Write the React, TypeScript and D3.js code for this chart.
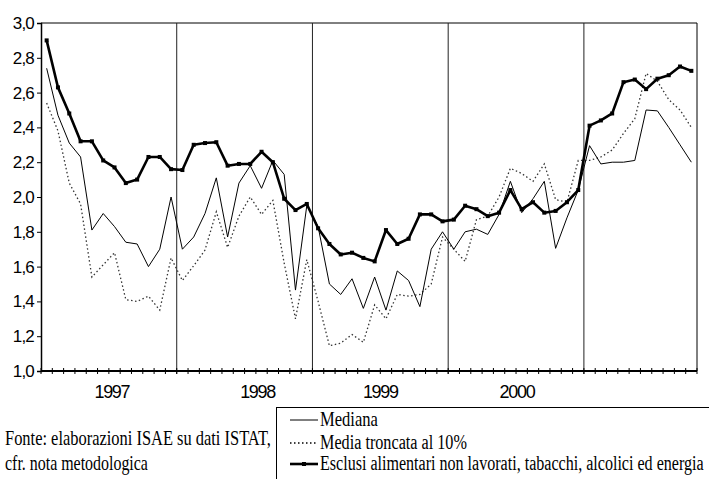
import { useEffect, useRef } from "react";
import * as d3 from "d3";

// monthly observations, Jan 1997 - Oct 2001
const mediana = [
  2.74, 2.47, 2.31, 2.23, 1.81, 1.905, 1.83, 1.74, 1.73, 1.6, 1.7, 2.0,
  1.7, 1.77, 1.905, 2.11, 1.77, 2.08, 2.18, 2.05, 2.21, 2.13, 1.465, 1.95,
  1.83, 1.5, 1.44, 1.53, 1.36, 1.54, 1.35, 1.575, 1.52, 1.37, 1.7, 1.8,
  1.7, 1.8, 1.815, 1.785, 1.9, 2.09, 1.91, 1.99, 2.09, 1.705, 1.88, 2.04,
  2.295, 2.19, 2.2, 2.2, 2.21, 2.5, 2.495, 2.4, 2.3, 2.2,
];

const mediaTroncata = [
  2.54, 2.38, 2.08, 1.96, 1.54, 1.61, 1.68, 1.41, 1.4, 1.43, 1.35, 1.65,
  1.52, 1.605, 1.695, 1.915, 1.71, 1.89, 2.0, 1.9, 1.98, 1.62, 1.3, 1.64,
  1.4, 1.145, 1.16, 1.21, 1.165, 1.38, 1.3, 1.44, 1.43, 1.44, 1.5, 1.77,
  1.7, 1.63, 1.87, 1.89, 2.0, 2.165, 2.135, 2.09, 2.19, 1.985, 1.97, 2.21,
  2.21, 2.23, 2.27, 2.365, 2.45, 2.71, 2.665, 2.56, 2.5, 2.4,
];

const esclusi = [
  2.9, 2.63, 2.48, 2.32, 2.32, 2.21, 2.17, 2.08, 2.1, 2.23, 2.23, 2.16,
  2.155, 2.3, 2.31, 2.315, 2.18, 2.19, 2.19, 2.26, 2.2, 1.99, 1.925, 1.96,
  1.82, 1.73, 1.67, 1.68, 1.65, 1.63, 1.81, 1.73, 1.76, 1.9, 1.9, 1.86,
  1.87, 1.95, 1.93, 1.89, 1.91, 2.04, 1.93, 1.97, 1.91, 1.92, 1.97, 2.04,
  2.41, 2.44, 2.48, 2.66, 2.675, 2.62, 2.68, 2.7, 2.75, 2.725,
];

const yearLabels = ["1997", "1998", "1999", "2000"];
const yTicks = [1.0, 1.2, 1.4, 1.6, 1.8, 2.0, 2.2, 2.4, 2.6, 2.8, 3.0];
const legendLabels = [
  "Mediana",
  "Media troncata al 10%",
  "Esclusi alimentari non lavorati, tabacchi, alcolici ed energia",
];
const sourceLines = ["Fonte: elaborazioni ISAE su dati ISTAT,", "cfr. nota metodologica"];

const W = 709;
const H = 479;
const PLOT = { left: 41, right: 697, top: 23, bottom: 371 };
// Excel put the year labels a little off the year centres
const YEAR_NUDGE = [3, 13, 0, 1];
const SERIF = "'Liberation Serif', 'Times New Roman', serif";
const SANS = "'Liberation Sans', Arial, sans-serif";

// condensed serif text: draw at natural size, then squeeze horizontally
function narrowText(
  parent: d3.Selection<SVGGElement, unknown, null, undefined>,
  str: string,
  x: number,
  y: number,
  width: number
) {
  const t = parent.append("text")
    .attr("font-family", SERIF)
    .attr("font-size", 20)
    .text(str);
  const natural = (t.node() as SVGTextElement).getComputedTextLength() || width;
  t.attr("transform", `translate(${x},${y}) scale(${width / natural},1)`);
}

export default function App() {
  const svgRef = useRef<SVGSVGElement>(null);

  useEffect(() => {
    if (!svgRef.current) return;
    const svg = d3.select(svgRef.current);
    svg.selectAll("*").remove();

    const n = esclusi.length;
    const x = d3.scaleLinear().domain([0, n]).range([PLOT.left, PLOT.right]);
    const y = d3.scaleLinear().domain([1, 3]).range([PLOT.bottom, PLOT.top]);
    const px = (i: number) => x(i + 0.5);

    // frame (top + right)
    svg.append("path")
      .attr("d", `M${PLOT.left},${PLOT.top}H${PLOT.right}V${PLOT.bottom}`)
      .attr("fill", "none")
      .attr("stroke", "#000")
      .attr("stroke-width", 1);

    // year dividers
    svg.append("g")
      .selectAll("line")
      .data([12, 24, 36, 48])
      .join("line")
      .attr("x1", (d) => x(d))
      .attr("x2", (d) => x(d))
      .attr("y1", PLOT.top)
      .attr("y2", PLOT.bottom + 3)
      .attr("stroke", "#222")
      .attr("stroke-width", 1);

    // y axis
    const yAxis = svg.append("g")
      .attr("transform", `translate(${PLOT.left},0)`)
      .call(d3.axisLeft(y).tickValues(yTicks).tickSize(4).tickPadding(3)
        .tickFormat((d) => d3.format(".1f")(d as number).replace(".", ",")));
    yAxis.select(".domain").attr("stroke", "#000").attr("stroke-width", 1.5);
    yAxis.selectAll("line").attr("stroke", "#000");
    yAxis.selectAll("text")
      .attr("fill", "#000")
      .attr("font-family", SANS)
      .attr("font-size", 17)
      .attr("letter-spacing", -0.8);

    // x axis with month ticks crossing the line
    const months = d3.range(n + 1);
    svg.append("g")
      .selectAll("line")
      .data(months)
      .join("line")
      .attr("x1", (d) => x(d))
      .attr("x2", (d) => x(d))
      .attr("y1", PLOT.bottom - 3)
      .attr("y2", PLOT.bottom + 3)
      .attr("stroke", "#000")
      .attr("stroke-width", 1);
    svg.append("line")
      .attr("x1", PLOT.left)
      .attr("x2", PLOT.right)
      .attr("y1", PLOT.bottom)
      .attr("y2", PLOT.bottom)
      .attr("stroke", "#000")
      .attr("stroke-width", 2);

    svg.append("g")
      .selectAll("text")
      .data(yearLabels)
      .join("text")
      .attr("x", (_, i) => x(i * 12 + 6) + YEAR_NUDGE[i])
      .attr("y", 398)
      .attr("text-anchor", "middle")
      .attr("font-family", SANS)
      .attr("font-size", 18)
      .attr("letter-spacing", -1.3)
      .text((d) => d);

    // series
    const line = d3.line<number>().x((_, i) => px(i)).y((d) => y(d));

    svg.append("path")
      .datum(mediaTroncata)
      .attr("d", line)
      .attr("fill", "none")
      .attr("stroke", "#333")
      .attr("stroke-width", 1.3)
      .attr("stroke-dasharray", "1.5,2.5");

    svg.append("path")
      .datum(mediana)
      .attr("d", line)
      .attr("fill", "none")
      .attr("stroke", "#000")
      .attr("stroke-width", 1);

    svg.append("path")
      .datum(esclusi)
      .attr("d", line)
      .attr("fill", "none")
      .attr("stroke", "#000")
      .attr("stroke-width", 2.6)
      .attr("stroke-linejoin", "round");

    svg.append("g")
      .selectAll("rect")
      .data(esclusi)
      .join("rect")
      .attr("x", (_, i) => px(i) - 2)
      .attr("y", (d) => y(d) - 2)
      .attr("width", 4)
      .attr("height", 4)
      .attr("fill", "#000");

    // source note
    const src = svg.append("g");
    const srcLen = [266, 143];
    sourceLines.forEach((s, i) => narrowText(src, s, 5, 445 + i * 25, srcLen[i]));

    // legend
    svg.append("rect")
      .attr("x", 276.5)
      .attr("y", 407.5)
      .attr("width", 460)
      .attr("height", 100)
      .attr("fill", "#fff")
      .attr("stroke", "#000")
      .attr("stroke-width", 1);

    const legY = [420, 443, 464];
    const legLen = [58, 147, 384];
    const leg = svg.append("g");
    legendLabels.forEach((label, i) => {
      const ly = legY[i];
      const sample = leg.append("line")
        .attr("x1", 290)
        .attr("x2", 318)
        .attr("y1", ly)
        .attr("y2", ly)
        .attr("stroke", "#000");
      if (i === 0) sample.attr("stroke-width", 1);
      if (i === 1) sample.attr("stroke-width", 1.5).attr("stroke-dasharray", "1.5,2.5");
      if (i === 2) {
        sample.attr("stroke-width", 2.6);
        leg.append("rect")
          .attr("x", 302)
          .attr("y", ly - 2)
          .attr("width", 4)
          .attr("height", 4)
          .attr("fill", "#000");
      }
      narrowText(leg, label, 320, ly + 6, legLen[i]);
    });
  }, []);

  return (
    <svg
      ref={svgRef}
      width={W}
      height={H}
      style={{ position: "absolute", left: 0, top: 0, background: "#fff" }}
    />
  );
}
